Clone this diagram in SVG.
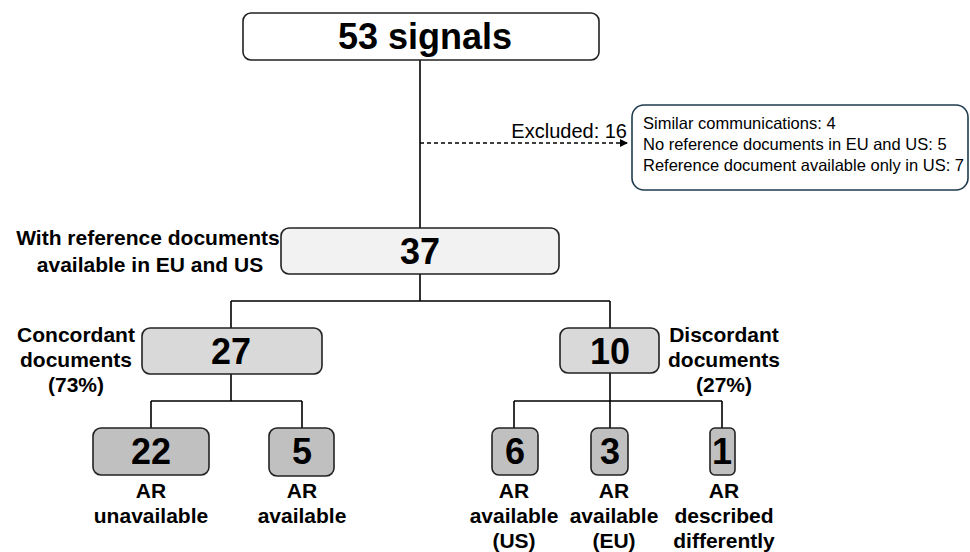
<svg xmlns="http://www.w3.org/2000/svg" width="970" height="552" viewBox="0 0 970 552">
<style>
  .box { stroke: #222; stroke-width: 1.6; }
  .num { font-family: "Liberation Sans", Arial, sans-serif; font-weight: bold; font-size: 36px; text-anchor: middle; fill: #000; }
  .lbl { font-family: "Liberation Sans", Arial, sans-serif; font-weight: bold; font-size: 21px; text-anchor: middle; fill: #000; }
  .reg { font-family: "Liberation Sans", Arial, sans-serif; font-size: 16.5px; fill: #000; }
  .conn { fill: none; stroke: #000; stroke-width: 1.6; }
</style>
<defs>
  <marker id="arr" viewBox="0 0 10 10" refX="10" refY="5" markerWidth="5" markerHeight="5" orient="auto" markerUnits="strokeWidth">
    <path d="M0,0 L10,5 L0,10 z" fill="#000"/>
  </marker>
</defs>
<rect width="970" height="552" fill="#fff"/>

<g id="connectors">
  <path class="conn" d="M420,60 V228"/>
  <path class="conn" d="M420,143 H628" stroke-dasharray="4,3" marker-end="url(#arr)"/>
  <path class="conn" d="M420,274 V301 M231,301 H610 M231,301 V328 M610,301 V328"/>
  <path class="conn" d="M231,374 V401 M151,401 H302 M151,401 V428 M302,401 V428"/>
  <path class="conn" d="M610,373 V401 M514,401 H722 M514,401 V428 M610,401 V428 M722,401 V428"/>
  <text x="627" y="138" text-anchor="end" font-family="Liberation Sans, Arial, sans-serif" font-size="20px">Excluded: 16</text>
</g>

<g id="n53">
  <rect class="box" x="243" y="13" width="356" height="47" rx="8" fill="#fff"/>
  <text class="num" x="425" y="49" font-size="39px">53 signals</text>
</g>

<g id="excluded">
  <rect x="632" y="105" width="336" height="85" rx="12" fill="#fff" stroke="#1f3b4d" stroke-width="1.6"/>
  <text class="reg" x="643" y="129">Similar communications: 4</text>
  <text class="reg" x="643" y="150">No reference documents in EU and US: 5</text>
  <text class="reg" x="643" y="171">Reference document available only in US: 7</text>
</g>

<g id="n37">
  <text class="lbl" x="148" y="245">With reference documents</text>
  <text class="lbl" x="150" y="272">available in EU and US</text>
  <rect class="box" x="281" y="228" width="278" height="46" rx="8" fill="#f2f2f2"/>
  <text class="num" x="420" y="264">37</text>
</g>

<g id="n27">
  <text class="lbl" x="76" y="342">Concordant</text>
  <text class="lbl" x="76" y="367">documents</text>
  <text class="lbl" x="76" y="392">(73%)</text>
  <rect class="box" x="142" y="328" width="180" height="46" rx="8" fill="#d9d9d9"/>
  <text class="num" x="231" y="364">27</text>
</g>

<g id="n10">
  <rect class="box" x="560" y="328" width="99" height="45" rx="8" fill="#d9d9d9"/>
  <text class="num" x="610" y="364">10</text>
  <text class="lbl" x="724" y="342">Discordant</text>
  <text class="lbl" x="724" y="367">documents</text>
  <text class="lbl" x="724" y="392">(27%)</text>
</g>

<g id="n22">
  <rect class="box" x="93" y="428" width="116" height="47" rx="8" fill="#c0c0c0"/>
  <text class="num" x="151" y="464">22</text>
  <text class="lbl" x="151" y="498">AR</text>
  <text class="lbl" x="151" y="523">unavailable</text>
</g>

<g id="n5">
  <rect class="box" x="269" y="428" width="65" height="48" rx="8" fill="#c0c0c0"/>
  <text class="num" x="302" y="464">5</text>
  <text class="lbl" x="302" y="498">AR</text>
  <text class="lbl" x="302" y="523">available</text>
</g>

<g id="n6">
  <rect class="box" x="492" y="428" width="46" height="47" rx="7" fill="#c0c0c0"/>
  <text class="num" x="515" y="464">6</text>
  <text class="lbl" x="514" y="498">AR</text>
  <text class="lbl" x="514" y="523">available</text>
  <text class="lbl" x="514" y="548">(US)</text>
</g>

<g id="n3">
  <rect class="box" x="591" y="428" width="37" height="47" rx="7" fill="#c0c0c0"/>
  <text class="num" x="610" y="464">3</text>
  <text class="lbl" x="614" y="498">AR</text>
  <text class="lbl" x="614" y="523">available</text>
  <text class="lbl" x="614" y="548">(EU)</text>
</g>

<g id="n1">
  <rect class="box" x="710" y="428" width="25" height="47" rx="5" fill="#c0c0c0"/>
  <text class="num" x="722" y="464">1</text>
  <text class="lbl" x="724" y="498">AR</text>
  <text class="lbl" x="724" y="523">described</text>
  <text class="lbl" x="724" y="548">differently</text>
</g>
</svg>
